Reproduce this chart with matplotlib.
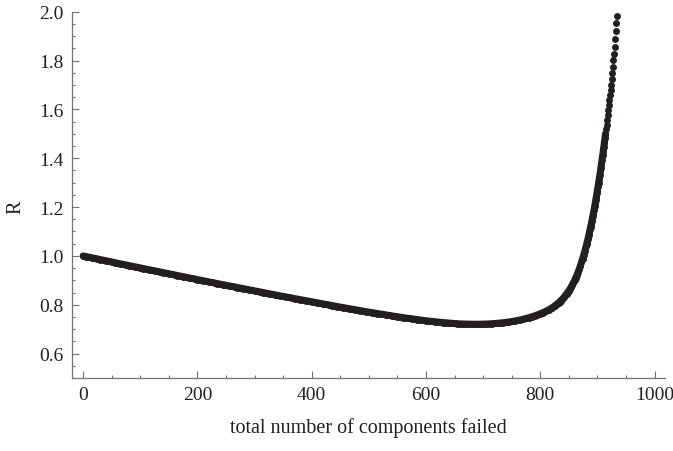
import numpy as np
import matplotlib
matplotlib.use("Agg")
import matplotlib.pyplot as plt
from matplotlib.ticker import MultipleLocator, FormatStrFormatter

plt.rcParams["font.family"] = ["Liberation Serif", "DejaVu Serif"]

# R against the total number of components failed.
# Sampled every 5 on the slow part, every 2 on the bend, every 1 on the blow-up.
failed_coarse = np.arange(0, 835, 5)
r_coarse = [
    1.000, 0.9975, 0.995, 0.9925, 0.990, 0.9875, 0.9851, 0.9826, 0.9801, 0.9777,
    0.9752, 0.9727, 0.9703, 0.9678, 0.9654, 0.9629, 0.9605, 0.958, 0.9556, 0.9532,
    0.9508, 0.9483, 0.9459, 0.9435, 0.9411, 0.9387, 0.9363, 0.9339, 0.9315, 0.9291,
    0.9267, 0.9243, 0.9219, 0.9195, 0.9172, 0.9148, 0.9124, 0.9101, 0.9077, 0.9054,
    0.903,
    0.9007, 0.8983, 0.896, 0.8936, 0.8913, 0.889, 0.8866, 0.8843, 0.882, 0.8797,
    0.8774, 0.8751, 0.8728, 0.8705, 0.8682, 0.8659, 0.8636, 0.8613, 0.859, 0.8568,
    0.8545, 0.8522, 0.8499, 0.8477, 0.8454, 0.8432, 0.8409, 0.8387, 0.8364, 0.8342,
    0.832, 0.8297, 0.8275, 0.8253, 0.8231, 0.8208, 0.8186, 0.8164, 0.8142, 0.812,
    0.8098, 0.8076, 0.8054, 0.8033, 0.8011, 0.799, 0.7968, 0.7947, 0.7926, 0.7905,
    0.7884, 0.7863, 0.7842, 0.7822, 0.7801, 0.7781, 0.776, 0.774, 0.772, 0.770,
    0.768, 0.766, 0.7641, 0.7622, 0.7603, 0.7584, 0.7565, 0.7546, 0.7528, 0.751,
    0.7492, 0.7475, 0.7458, 0.7441, 0.7424, 0.7408, 0.7393, 0.7377, 0.7362, 0.7348,
    0.7334, 0.732, 0.7307, 0.7295, 0.7283, 0.7272, 0.7261, 0.7251, 0.7242, 0.7233,
    0.7225, 0.7218, 0.7213, 0.7209, 0.7206, 0.7204, 0.7203, 0.7204, 0.7205, 0.7208,
    0.7212, 0.7217, 0.7224, 0.7232, 0.7242, 0.7253, 0.7266, 0.728, 0.7296, 0.7314,
    0.7333, 0.7355, 0.7379, 0.7406, 0.7437, 0.747, 0.7506, 0.7546, 0.7588, 0.7633,
    0.7682, 0.7737, 0.7799, 0.787, 0.7951, 0.8043,
]

failed_bend = np.arange(832, 880, 2)
r_bend = [
    0.8083, 0.8126, 0.8172, 0.822, 0.8271,
    0.8325, 0.8383, 0.8444, 0.8509, 0.8579,
    0.8653, 0.8732, 0.8817, 0.8908, 0.9004,
    0.9107, 0.9217, 0.9335, 0.9461, 0.9594,
    0.9735, 0.9886, 1.0045, 1.0212,
]

failed_tail = np.arange(880, 935)
r_tail = [
    1.0389,
    1.0481, 1.0575, 1.0672, 1.0771, 1.0872, 1.0976, 1.1083, 1.1191, 1.1303, 1.1417,
    1.1533, 1.1653, 1.1775, 1.1899, 1.2027, 1.2157, 1.2291, 1.2427, 1.2565, 1.2707,
    1.2852, 1.2999, 1.3149, 1.3302, 1.3459, 1.3618, 1.378, 1.3945, 1.4114, 1.4285,
    1.4459, 1.4636, 1.4816, 1.4999, 1.5185, 1.5374, 1.5566, 1.5761, 1.5959, 1.616,
    1.6366, 1.6577, 1.6795, 1.7018, 1.7248, 1.7487, 1.7738, 1.8002, 1.8278, 1.8567,
    1.8872, 1.9197, 1.952, 1.984,
]

failed = np.concatenate([failed_coarse, failed_bend, failed_tail])
ratio = np.concatenate([r_coarse, r_bend, r_tail])

DOT_COLOR = "#231f20"
AXIS_COLOR = "#737373"
FONT_SIZE = 14
DOT_SIZE = 5.0

fig = plt.figure(figsize=(6.73, 4.52), dpi=100)
ax = fig.add_axes([0.1065, 0.1615, 0.8815, 0.8104])

# where the points overlap they read as one solid band; a stroke of the
# same width underneath keeps its edges smooth between the sampled points
dense = failed < 915
ax.plot(failed[dense], ratio[dense], "-", lw=DOT_SIZE, color=DOT_COLOR,
        solid_capstyle="round", solid_joinstyle="round")
ax.plot(failed, ratio, "o", ms=DOT_SIZE, mew=0, color=DOT_COLOR, clip_on=False)

ax.set_xlim(-20, 1018)
ax.set_ylim(0.5, 2.0)

for side in ("top", "right"):
    ax.spines[side].set_visible(False)
for side in ("left", "bottom"):
    ax.spines[side].set_color(AXIS_COLOR)
    ax.spines[side].set_linewidth(0.9)

ax.xaxis.set_major_locator(MultipleLocator(200))
ax.xaxis.set_minor_locator(MultipleLocator(50))
ax.yaxis.set_major_locator(MultipleLocator(0.2))
ax.yaxis.set_minor_locator(MultipleLocator(0.05))
ax.yaxis.set_major_formatter(FormatStrFormatter("%.1f"))

ax.tick_params(which="both", direction="in", color=AXIS_COLOR, width=0.8,
               labelsize=FONT_SIZE, labelcolor=DOT_COLOR, pad=6)
ax.tick_params(which="major", length=5)
ax.tick_params(which="minor", length=2.5)

ax.set_xlabel("total number of components failed", fontsize=FONT_SIZE + 0.5,
              color=DOT_COLOR, labelpad=10)
ax.set_ylabel("R", fontsize=FONT_SIZE + 0.5, color=DOT_COLOR, labelpad=10,
              y=0.47)

fig.savefig("out.png", dpi=100)
